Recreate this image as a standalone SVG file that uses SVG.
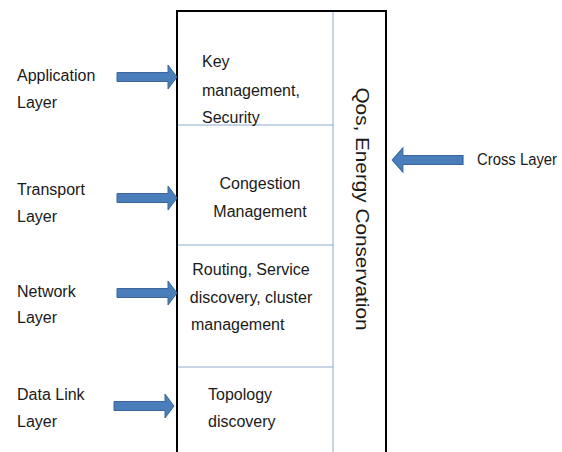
<svg xmlns="http://www.w3.org/2000/svg" width="562" height="452" viewBox="0 0 562 452">
<style>
text{font-family:"Liberation Sans",Arial,sans-serif;font-size:16px;fill:#1a1a1a}
.arr{fill:#4a7ebb;stroke:#3a669a;stroke-width:1}
.div{stroke:#8eaad0;stroke-width:1;fill:none}
</style>
<defs>
<path id="ar" d="M0,-4.5 H51 V-12 L60,0 L51,12 V4.5 H0 Z"/>
</defs>
<rect width="562" height="452" fill="#fff"/>
<g id="stack">
<path d="M177,460 V11 H386 V460" fill="none" stroke="#000" stroke-width="2"/>
<line class="div" x1="333" y1="12" x2="333" y2="460"/>
<line class="div" x1="178" y1="125" x2="333" y2="125"/>
<line class="div" x1="178" y1="245" x2="333" y2="245"/>
<line class="div" x1="178" y1="367" x2="333" y2="367"/>
</g>
<g id="app-box"><text x="202" y="67">Key</text><text x="202" y="96">management,</text><text x="202" y="123">Security</text></g>
<g id="transport-box"><text x="260" y="189" text-anchor="middle">Congestion</text><text x="260" y="217" text-anchor="middle">Management</text></g>
<g id="network-box"><text x="251" y="275" text-anchor="middle">Routing, Service</text><text x="251" y="303" text-anchor="middle">discovery, cluster</text><text x="191" y="330">management</text></g>
<g id="datalink-box"><text x="208" y="400">Topology</text><text x="208" y="427">discovery</text></g>
<g id="cross-box"><text transform="translate(362,209) rotate(90)" text-anchor="middle" dominant-baseline="central" textLength="243" lengthAdjust="spacingAndGlyphs" style="font-size:18px">Qos, Energy Conservation</text></g>
<g id="application"><text x="17" y="81">Application</text><text x="17" y="108">Layer</text></g>
<g id="transport"><text x="17" y="195">Transport</text><text x="17" y="222">Layer</text></g>
<g id="network"><text x="17" y="297">Network</text><text x="17" y="323">Layer</text></g>
<g id="datalink"><text x="17" y="400">Data Link</text><text x="17" y="427">Layer</text></g>
<g id="cross"><text x="477" y="165" textLength="80" lengthAdjust="spacingAndGlyphs">Cross Layer</text></g>
<g id="connectors">
<use href="#ar" class="arr" transform="translate(117,77)"/>
<use href="#ar" class="arr" transform="translate(117,198)"/>
<use href="#ar" class="arr" transform="translate(117,293)"/>
<use href="#ar" class="arr" transform="translate(114,406)"/>
<use href="#ar" class="arr" transform="translate(463,160) scale(-1,1) scale(1.18,1)"/>
</g>
</svg>
